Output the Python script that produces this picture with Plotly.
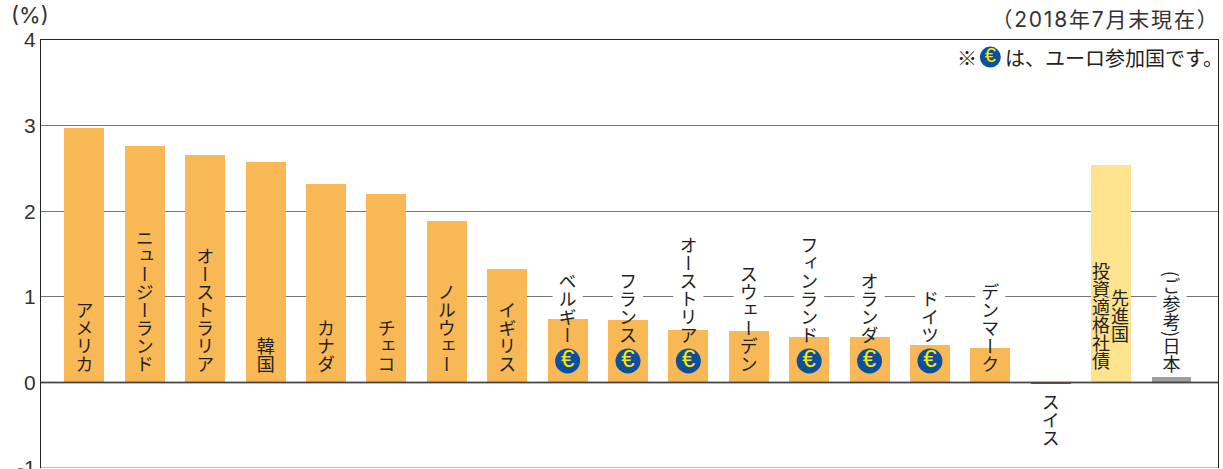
import plotly.graph_objects as go

categories = ["アメリカ", "ニュージーランド", "オーストラリア", "韓国", "カナダ", "チェコ", "ノルウェー",
              "イギリス", "ベルギー", "フランス", "オーストリア", "スウェーデン", "フィンランド", "オランダ",
              "ドイツ", "デンマーク", "スイス", "先進国投資適格社債", "(ご参考)日本"]
values = [2.97, 2.76, 2.66, 2.57, 2.32, 2.20, 1.88, 1.32, 0.74, 0.73, 0.61, 0.60, 0.53, 0.53, 0.44, 0.40,
          -0.01, 2.54, 0.06]
euro_members = ["ベルギー", "フランス", "オーストリア", "フィンランド", "オランダ", "ドイツ"]
gap_labels = ["ベルギー", "フランス", "オーストリア", "スウェーデン", "フィンランド", "オランダ", "ドイツ",
              "デンマーク", "(ご参考)日本"]
tick_vals = [-1, 0, 1, 2, 3, 4]
euro_label_base = 0.45
label_base = 0.11

ORANGE, YELLOW, GRAY = "#F9B856", "#FEE38F", "#9E9E9E"
FONT = "Noto Sans CJK JP"
TXT = "#333333"
pos = list(range(len(categories)))
colors = [YELLOW if c.startswith("先進国") else GRAY if "日本" in c else "#8a6a40" if c == "スイス" else ORANGE
          for c in categories]

fig = go.Figure()
fig.add_bar(x=pos, y=values, width=0.662, marker=dict(color=colors, line_width=0), showlegend=False)
# White breaks in the 1% gridline behind labels
fig.add_scatter(x=[categories.index(c) for c in gap_labels], y=[1] * len(gap_labels), mode="markers",
                marker=dict(symbol="square", size=30, color="white"), showlegend=False)
# Euro badges
euro_x = [categories.index(c) for c in euro_members] + [15]
euro_y = [0.25] * len(euro_members) + [3.8]
euro_s = [25] * len(euro_members) + [21]
fig.add_scatter(x=euro_x, y=euro_y, mode="markers", showlegend=False,
                marker=dict(size=euro_s, color="#0B4F9E", opacity=1, line=dict(width=0)))
fig.add_scatter(x=euro_x, y=euro_y, mode="text", text=["€"] * len(euro_x), textposition="middle center",
                textfont=dict(family="Liberation Sans", size=[24] * len(euro_members) + [20], color="#FFE600"),
                showlegend=False)

annos = []
for i, c in enumerate(categories):
    if c.startswith("先進国"):
        annos.append(dict(x=i, y=0.775, text="投資適格社債", xshift=-10, yanchor="middle"))
        annos.append(dict(x=i, y=0.775, text="先進国", xshift=9, yanchor="middle"))
    elif c == "スイス":
        annos.append(dict(x=i, y=-0.12, text=c, yanchor="top"))
    else:
        annos.append(dict(x=i, y=euro_label_base if c in euro_members else label_base, text=c, yanchor="bottom"))
n_vert = len(annos)
for a in annos:
    a.update(xref="x", yref="y", xanchor="center", showarrow=False, font=dict(family=FONT, size=18, color="#222222"))
annos += [
    dict(xref="paper", yref="paper", x=-0.0276, y=1.058, xanchor="left", yanchor="middle", showarrow=False,
         text="(%)", font=dict(family="Inter, " + FONT, size=22, color=TXT)),
    dict(xref="paper", yref="paper", x=1.0025, y=1.047, xanchor="right", yanchor="middle", showarrow=False,
         text="（2018年7月末現在）", font=dict(family="Inter, " + FONT, size=21, color=TXT)),
    dict(xref="paper", yref="paper", x=0.817, y=0.958, xanchor="left", yanchor="middle", showarrow=False,
         text="は、ユーロ参加国です。", font=dict(family=FONT, size=20, color="#222222")),
    dict(xref="paper", yref="paper", x=0.7865, y=0.958, xanchor="center", yanchor="middle", showarrow=False,
         text="※", font=dict(family=FONT, size=20, color="#222222")),
]

fig.update_layout(
    width=1223, height=469, margin=dict(l=40.5, r=4.5, t=39.5, b=1),
    paper_bgcolor="white", plot_bgcolor="white", annotations=annos, bargap=0, barmode="overlay",
    shapes=[dict(type="line", xref="paper", x0=0, x1=1, yref="y", y0=0, y1=0,
                 line=dict(color="rgba(50,50,50,0.7)", width=2), layer="above"),
            dict(type="line", xref="paper", x0=0, x1=1, yref="y", y0=-1, y1=-1,
                 line=dict(color="#777777", width=1), layer="above")],
    xaxis=dict(range=[-0.72, 18.77], showticklabels=False, showgrid=False, zeroline=False, ticks="",
               side="top", showline=True, linecolor="#222222", linewidth=1, automargin=False),
    yaxis=dict(range=[-1, 4], tickvals=tick_vals, ticktext=[str(v) for v in tick_vals], showgrid=True,
               gridcolor="#777777", gridwidth=1, zeroline=False, showline=True, mirror=True,
               linecolor="#222222", linewidth=1, ticks="", ticklen=0, ticklabeloverflow="allow", automargin=False,
               tickfont=dict(family="Liberation Sans", size=21, color="#333333")),
)

post = """
document.body.style.margin='0';
var gd=document.getElementById('{plot_id}');
var N=%d, fl=gd._fullLayout, xa=fl.xaxis, ya=fl.yaxis;
gd.querySelectorAll('.annotation').forEach(function(g){
  var i=+g.getAttribute('data-index'), t=g.querySelector('text');
  if(i==N+1){
    var r0=t.getBoundingClientRect().right;
    t.style.letterSpacing='1.8px';
    var r1=t.getBoundingClientRect().right;
    t.setAttribute('x',(+t.getAttribute('x')||0)+(r0-r1));
  }
  if(i>=N) return;
  var a=gd.layout.annotations[i];
  t.style.writingMode='vertical-rl'; t.style.textOrientation='mixed';
  t.setAttribute('text-anchor','start');
  var r=t.getBoundingClientRect();
  var px=fl._size.l+xa.d2p(a.x)+(a.xshift||0), py=fl._size.t+ya.d2p(a.y);
  var dx=px-(r.left+r.right)/2;
  var dy=a.yanchor=='bottom'?py-r.bottom:a.yanchor=='top'?py-r.top:py-(r.top+r.bottom)/2;
  t.setAttribute('x',(+t.getAttribute('x')||0)+dx);
  t.setAttribute('y',(+t.getAttribute('y')||0)+dy);
});
""" % n_vert
fig.write_html("out.html", post_script=post, config={"displayModeBar": False})
